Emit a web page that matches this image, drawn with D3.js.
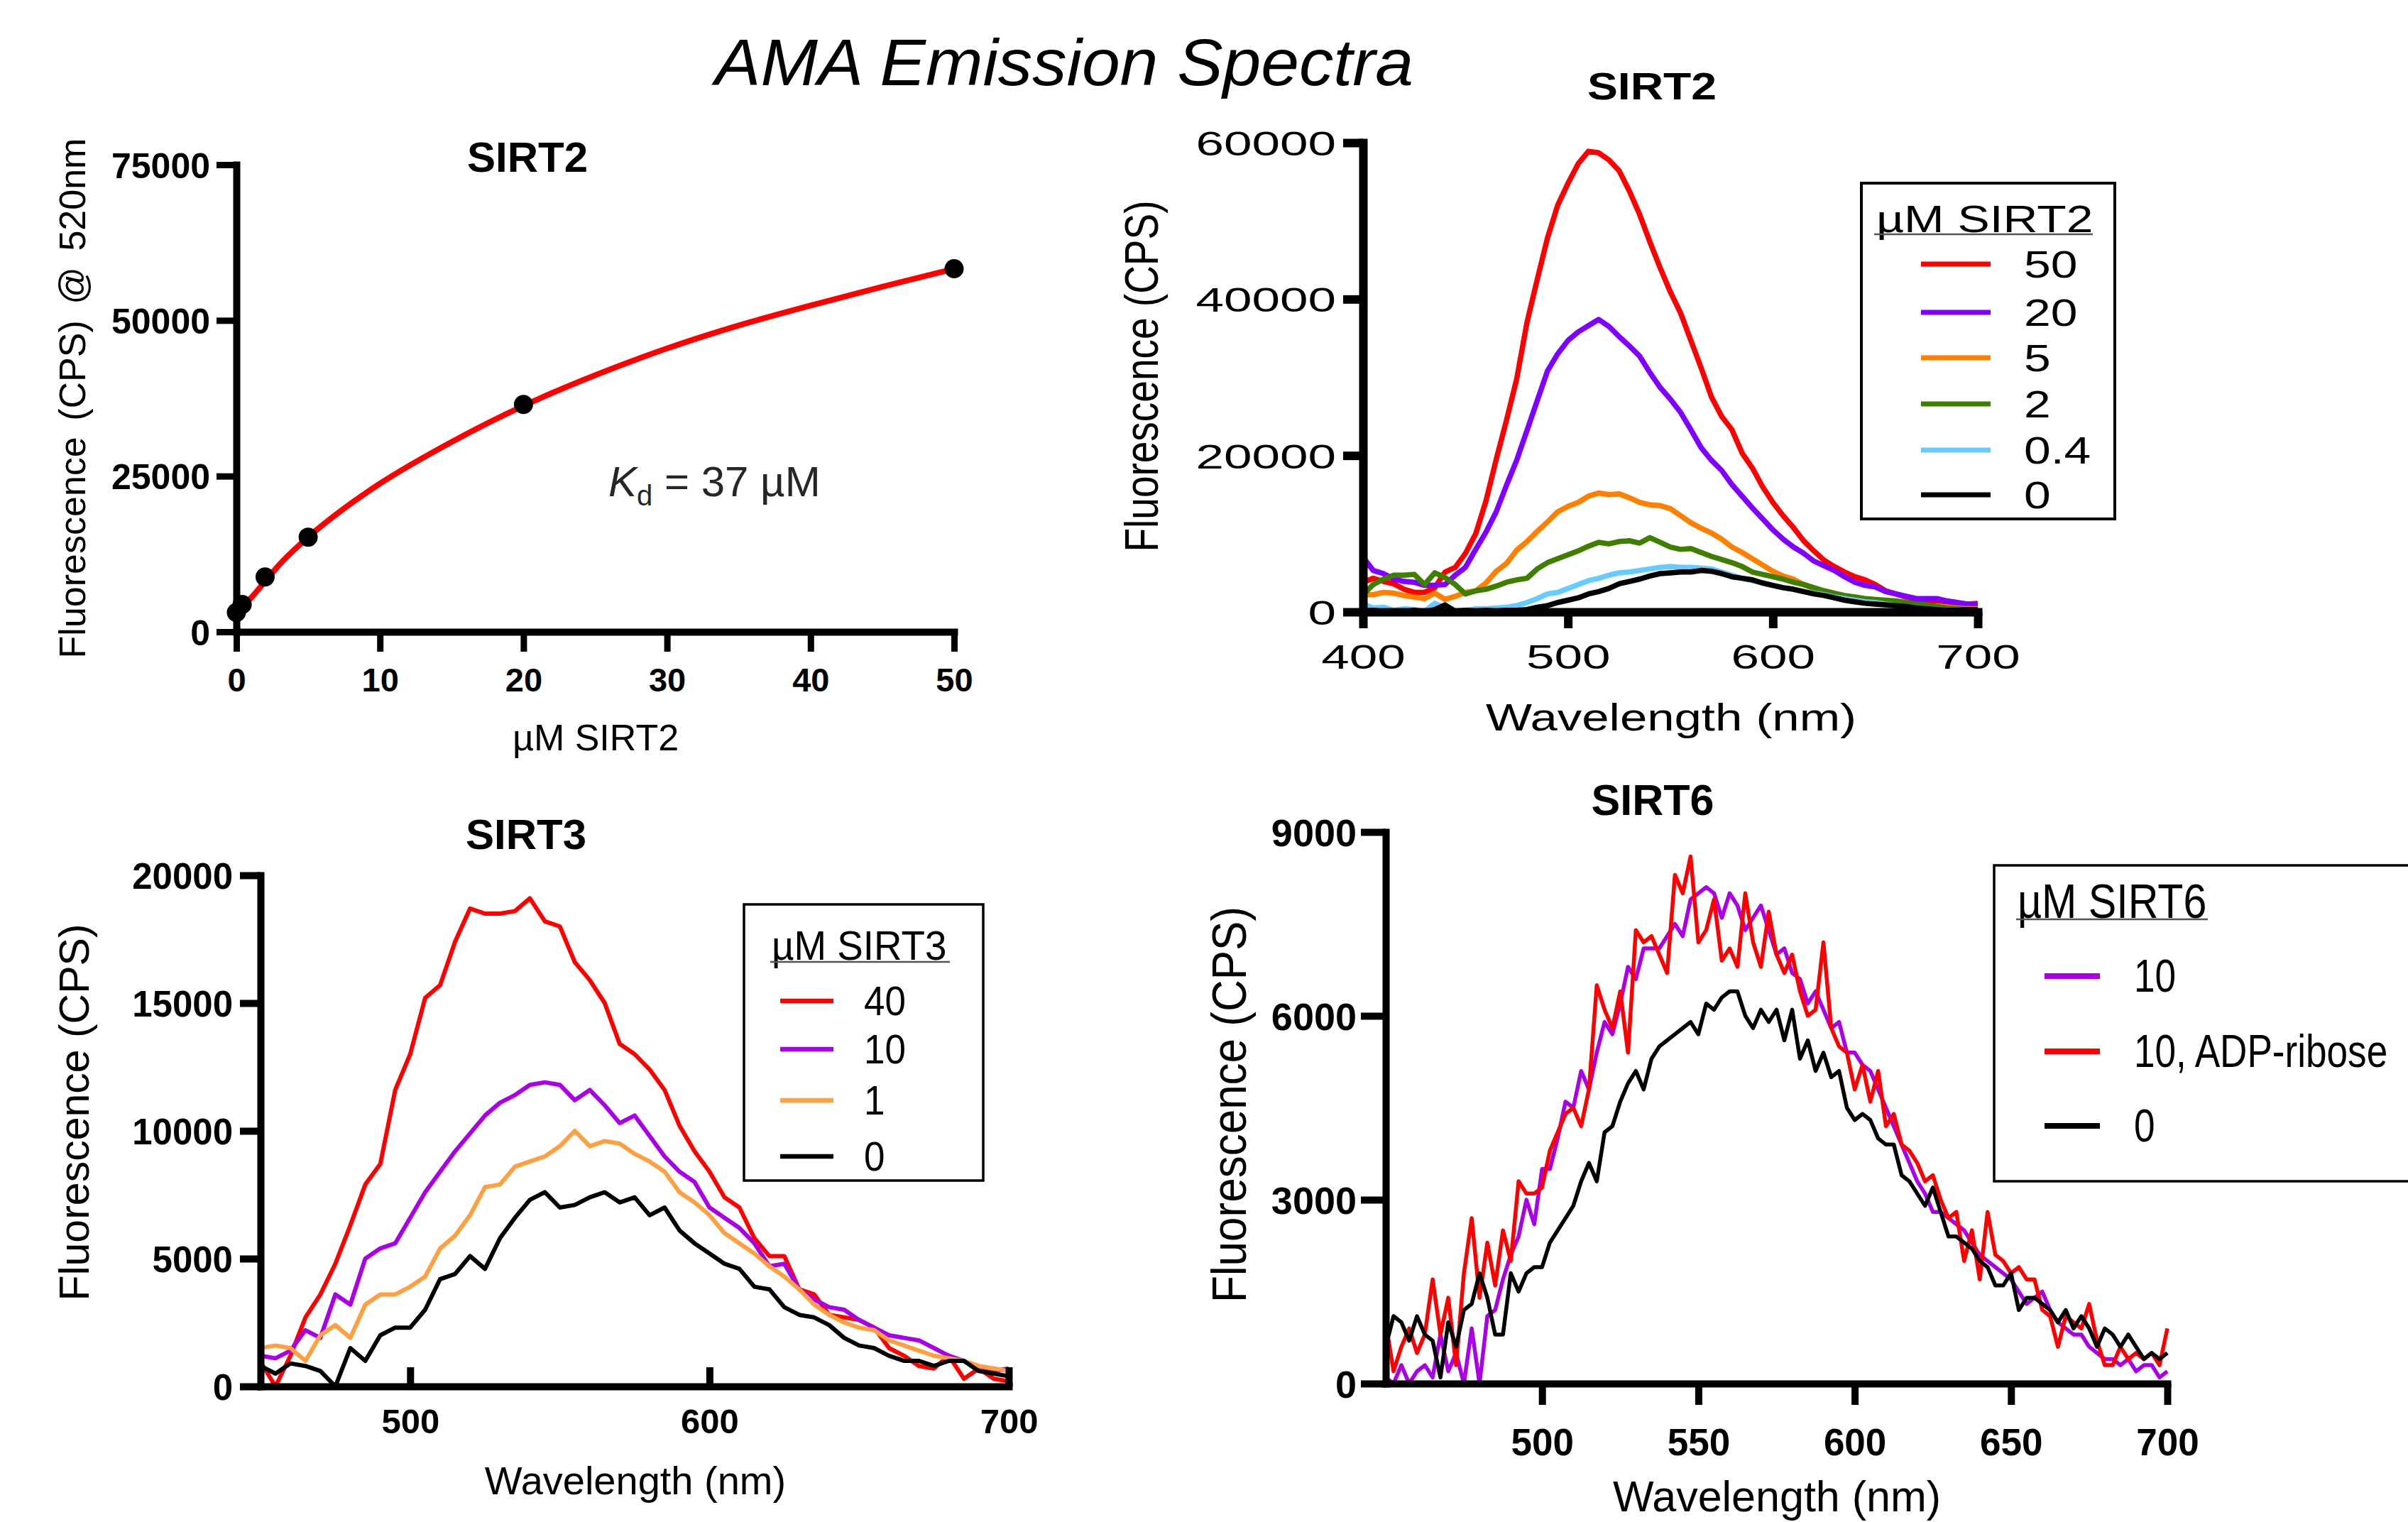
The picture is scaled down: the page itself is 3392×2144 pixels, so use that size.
<!DOCTYPE html>
<html>
<head>
<meta charset="utf-8">
<script src="https://cdn.jsdelivr.net/npm/d3@7"></script>
<style>
  html, body { margin: 0; padding: 0; background: #fff; }
  svg { display: block; }
</style>
</head>
<body>
<div id="chart-area"></div>
<script>
// ---- binding curve (SIRT2, F @ 520 nm) ----
var bindConc = [0, 0.4, 2, 5, 20, 50];
var bindFluor = [3100, 4400, 8800, 15200, 36500, 58300];
var fitConc = [0, 0.5, 1, 2, 3, 5, 7.5, 10, 15, 20, 25, 30, 35, 40, 45, 50];
var fitFluor = [3000, 4300, 5400, 8100, 10800, 15200, 19800, 23800, 30500, 36300, 41200, 45500, 49200, 52400, 55400, 58300];
var bindTicksX = [0, 10, 20, 30, 40, 50];
var bindTicksY = [0, 25000, 50000, 75000];

// ---- SIRT2 emission spectra ----
var wlSirt2 = [400,405,410,415,420,425,430,435,440,445,450,455,460,465,470,475,480,485,490,495,
  500,505,510,515,520,525,530,535,540,545,550,555,560,565,570,575,580,585,590,595,
  600,605,610,615,620,625,630,635,640,645,650,655,660,665,670,675,680,685,690,695,700];
var sirt2_50 = [3800,4300,3900,3600,2900,2500,2500,3100,5100,5700,
  7500,10000,14200,19500,24500,29800,37000,42500,47800,52000,
  54800,57300,58900,58700,57800,56400,53800,50800,47300,44000,
  40900,38200,34700,31200,27500,25000,23300,20300,18400,16000,
  14000,12300,10800,9100,7800,6600,5800,5100,4500,4100,
  3500,2700,2300,1900,1600,1400,1400,1300,1100,1000,1100];
var sirt2_20 = [7000,5300,4900,4200,3900,3800,3400,3400,3500,4700,
  5700,8000,10200,12800,16200,19400,23200,27000,30800,33000,
  34700,35800,36600,37400,36500,35200,34000,32700,30600,28700,
  27200,25500,23300,21000,19400,18100,16300,14800,13300,11900,
  10500,9300,8300,7500,6500,5900,5300,4500,3800,3400,
  3200,2600,2300,2000,1700,1700,1700,1400,1200,1000,1000];
var sirt2_5 = [2200,2200,2500,2400,2100,1900,1700,2400,1600,2000,
  2500,2700,3700,5200,6200,7900,9000,10300,11500,12800,
  13500,14000,14800,15200,15000,15100,14600,14000,13700,13600,
  13200,12300,11400,10700,10100,9300,8300,7600,6800,6000,
  5200,4600,4200,3500,3000,2500,2300,2000,1700,1400,
  1200,1100,1000,900,800,700,600,600,500,400,400];
var sirt2_2 = [2200,3500,4200,4700,4700,4800,3500,5000,4400,3500,
  2300,2700,2900,3300,3800,4100,4300,5500,6300,6800,
  7300,7800,8400,8900,8700,9000,9100,8800,9500,8900,
  8300,8000,8100,7600,7100,6700,6300,5800,5100,4800,
  4500,4200,3800,3500,3100,2700,2400,2100,1900,1700,
  1600,1500,1400,1200,1000,900,700,500,400,300,200];
var sirt2_04 = [1000,500,600,200,400,300,100,1100,500,0,
  200,400,400,500,600,800,1200,1700,2300,2500,
  3000,3500,4000,4300,4700,5000,5100,5300,5500,5700,
  5800,5700,5700,5600,5500,5100,4700,4300,4000,3700,
  3400,3100,2900,2600,2400,2200,1900,1700,1500,1300,
  1200,1000,800,700,500,400,300,200,100,100,0];
var sirt2_0 = [100,200,0,100,0,200,0,300,900,100,
  200,100,200,100,200,200,300,600,800,1200,
  1500,1800,2300,2600,3000,3600,3900,4200,4600,4900,
  5000,5100,5100,5300,5200,4900,4500,4300,4100,3700,
  3400,3100,2900,2600,2300,2100,1800,1500,1300,1100,
  1000,900,800,700,500,400,300,200,200,300,300];
var sirt2Labels = ["50", "20", "5", "2", "0.4", "0"];
var sirt2Colors = ["#ff0000", "#8000ff", "#ff8000", "#3f7f00", "#66ccff", "#000000"];

// ---- SIRT3 emission spectra ----
var wlSirt3 = [450,455,460,465,470,475,480,485,490,495,500,505,510,515,520,525,530,535,540,545,
  550,555,560,565,570,575,580,585,590,595,600,605,610,615,620,625,630,635,640,645,
  650,655,660,665,670,675,680,685,690,695,700];
var sirt3_40 = [960,0,1200,2700,3600,4800,6300,7900,8700,11600,
  13000,15200,15700,17400,18700,18500,18500,18600,19100,18200,
  18000,16600,15900,15000,13400,13000,12400,11600,10200,9200,
  8400,7400,7000,5800,5100,5100,3800,3600,2800,2700,
  2600,2300,1500,1200,800,700,1200,300,700,300,200];
var sirt3_10 = [1200,1100,1400,2200,1900,3600,3200,5000,5400,5600,
  6600,7600,8400,9200,9900,10600,11100,11400,11800,11900,
  11800,11200,11600,11000,10300,10600,9800,9000,8400,8000,
  7000,6600,6200,5600,4700,4800,3800,3400,3100,3000,
  2600,2300,2000,1900,1800,1500,1200,1000,700,600,700];
var sirt3_1 = [1500,1600,1500,1000,2000,2400,1900,3200,3600,3600,
  3900,4300,5400,5900,6700,7800,7900,8600,8800,9000,
  9400,10000,9400,9600,9500,9100,8800,8400,7600,7200,
  6700,6000,5600,5200,4700,4300,3800,3200,2800,2500,
  2300,2200,1800,1600,1400,1200,1100,1000,800,700,600];
var sirt3_0 = [800,500,900,800,600,0,1500,1000,2000,2300,
  2300,3000,4200,4400,5100,4600,5800,6600,7300,7600,
  7000,7100,7400,7600,7200,7400,6700,7000,6100,5600,
  5200,4800,4600,3900,3800,3100,2800,2700,2400,1900,
  1600,1500,1200,1000,1000,800,1000,1000,600,500,400];
var sirt3Labels = ["40", "10", "1", "0"];
var sirt3Colors = ["#ff0000", "#aa00e6", "#ffa040", "#000000"];

// ---- SIRT6 emission spectra ----
var wlSirt6 = [450,452.5,455,457.5,460,462.5,465,467.5,470,472.5,
  475,477.5,480,482.5,485,487.5,490,492.5,495,497.5,
  500,502.5,505,507.5,510,512.5,515,517.5,520,522.5,
  525,527.5,530,532.5,535,537.5,540,542.5,545,547.5,
  550,552.5,555,557.5,560,562.5,565,567.5,570,572.5,
  575,577.5,580,582.5,585,587.5,590,592.5,595,597.5,
  600,602.5,605,607.5,610,612.5,615,617.5,620,622.5,
  625,627.5,630,632.5,635,637.5,640,642.5,645,647.5,
  650,652.5,655,657.5,660,662.5,665,667.5,670,672.5,
  675,677.5,680,682.5,685,687.5,690,692.5,695,697.5,700];
var sirt6_10 = [100,0,300,0,200,300,100,800,200,500,
  0,900,0,1100,1200,1700,2100,2400,3000,2600,
  3500,3500,4000,4600,4500,5100,4800,5400,5900,5700,
  6200,6800,6600,7100,7100,7100,7300,7500,7300,7900,
  8000,8100,8000,7600,8000,7800,7400,7600,7800,7400,
  7000,7100,6700,6600,6200,6400,6100,5800,5900,5400,
  5400,5200,5100,4800,4500,4200,3900,3600,3300,3100,
  2800,2800,2700,2600,2500,2300,2100,2000,1900,1800,
  1700,1500,1300,1400,1500,1200,1000,900,800,800,
  600,500,400,400,300,400,200,300,300,100,200];
var sirt6_10adp = [1000,200,600,900,500,800,1700,800,1400,300,
  1800,2700,1400,2300,1600,2500,2000,3300,3100,3100,
  3200,3800,4100,4400,4500,4200,4800,6500,6100,5800,
  6400,5400,7400,7200,7300,7000,6700,8300,8000,8600,
  7200,7400,7900,6900,7100,6800,8000,7200,6800,7700,
  7000,6700,7000,6400,6000,6100,7200,5800,5500,5400,
  4800,5200,4600,5100,4200,4400,3900,3800,3600,3300,
  3400,3000,2700,2800,2000,2500,1700,2800,2100,2000,
  1800,1900,1700,1700,1200,1100,600,1100,1000,900,
  1300,700,300,300,600,400,500,400,500,300,900];
var sirt6_0 = [600,1100,1000,700,1100,800,700,100,1000,600,
  1200,1300,1800,1400,800,800,1800,1500,1800,1900,
  1900,2300,2500,2700,2900,3300,3600,3300,4100,4200,
  4600,4900,5100,4800,5300,5500,5600,5700,5800,5900,
  5700,6200,6100,6300,6400,6400,6000,5800,6100,5900,
  6100,5600,6100,5300,5600,5100,5400,5000,5100,4500,
  4300,4400,4300,4000,3900,3900,3400,3300,3100,2900,
  3200,2800,2400,2400,2300,2200,2000,1900,1600,1600,
  1800,1200,1400,1400,1300,1200,1000,1200,900,1100,
  900,600,900,800,600,800,600,400,500,400,500];
var sirt6Labels = ["10", "10, ADP-ribose", "0"];
var sirt6Colors = ["#aa00e6", "#ff0000", "#000000"];

var FONT = "'Liberation Sans', Arial, Helvetica, sans-serif";
var plain = d3.format("d");

var svg = d3.select("#chart-area").append("svg")
  .attr("width", 3392)
  .attr("height", 2144)
  .style("background-color", "white");

// text helper: sx stretches the text horizontally on screen (the original panels were resized unevenly)
function label(g, x, y, txt, o) {
  var tf = "translate(" + x + "," + y + ") scale(" + (o.sx || 1) + ",1)" + (o.rot ? " rotate(" + o.rot + ")" : "");
  return g.append("text")
    .attr("transform", tf)
    .attr("text-anchor", o.anchor || "middle")
    .style("font-family", FONT)
    .style("font-size", o.size + "px")
    .style("font-weight", o.weight || "normal")
    .style("font-style", o.italic ? "italic" : "normal")
    .style("word-spacing", o.ws ? o.ws + "px" : null)
    .attr("fill", o.color || "#000")
    .text(txt);
}

function styleLeft(ax, o) {
  ax.attr("font-size", null).attr("font-family", null);
  ax.select(".domain").attr("stroke-width", o.sw).attr("stroke-linecap", "square");
  ax.selectAll(".tick line").attr("stroke-width", o.tw);
  ax.selectAll(".tick text")
    .attr("x", -o.gap / o.sx)
    .attr("dy", "0.36em")
    .attr("transform", "scale(" + o.sx + ",1)")
    .attr("fill", "#000")
    .style("font-family", FONT)
    .style("font-size", o.fs + "px")
    .style("font-weight", o.fw);
}

function styleBottom(ax, o) {
  ax.attr("font-size", null).attr("font-family", null);
  ax.select(".domain").attr("stroke-width", o.sw).attr("stroke-linecap", "square");
  ax.selectAll(".tick line").attr("stroke-width", o.tw);
  ax.selectAll(".tick text")
    .attr("y", o.base)
    .attr("dy", null)
    .attr("transform", "scale(" + o.sx + ",1)")
    .attr("fill", "#000")
    .style("font-family", FONT)
    .style("font-size", o.fs + "px")
    .style("font-weight", o.fw);
}

// ================= panel 1: binding curve =================
(function () {
  var x = d3.scaleLinear().domain([0, 50]).range([333, 1344]);
  var y = d3.scaleLinear().domain([0, 75000]).range([890, 232]);
  var g = svg.append("g");

  var fit = d3.zip(fitConc, fitFluor);
  g.append("path")
    .datum(fit)
    .attr("fill", "none")
    .attr("stroke", "#ff0000")
    .attr("stroke-width", 8)
    .attr("stroke-linecap", "round")
    .attr("d", d3.line().x(function (d) { return x(d[0]); }).y(function (d) { return y(d[1]); }).curve(d3.curveMonotoneX));

  var xa = g.append("g").attr("transform", "translate(0," + y(0) + ")")
    .call(d3.axisBottom(x).tickValues(bindTicksX).tickFormat(plain).tickSize(28).tickSizeOuter(0));
  styleBottom(xa, { sw: 10, tw: 9, base: 84, sx: 1, fs: 47, fw: "bold" });
  var ya = g.append("g").attr("transform", "translate(" + x(0) + ",0)")
    .call(d3.axisLeft(y).tickValues(bindTicksY).tickFormat(plain).tickSize(28).tickSizeOuter(0));
  styleLeft(ya, { sw: 10, tw: 9, gap: 37, sx: 1, fs: 50, fw: "bold" });

  g.selectAll("circle.pt")
    .data(d3.zip(bindConc, bindFluor))
    .enter().append("circle")
    .attr("class", "pt")
    .attr("cx", function (d) { return x(d[0]); })
    .attr("cy", function (d) { return y(d[1]); })
    .attr("r", 13.5)
    .attr("fill", "#000");

  label(g, 743, 242, "SIRT2", { size: 60, weight: "bold" });
  label(g, 839, 1057, "µM SIRT2", { size: 52 });
  label(g, 120, 561, "Fluorescence (CPS) @ 520nm", { size: 52, rot: -90, ws: 8 });

  var kd = g.append("text")
    .attr("x", 857).attr("y", 699)
    .style("font-family", FONT).style("font-size", "60px")
    .attr("fill", "#262626");
  kd.append("tspan").style("font-style", "italic").text("K");
  kd.append("tspan").attr("dy", 13).style("font-size", "40px").text("d");
  kd.append("tspan").attr("dy", -13).text(" = 37 µM");
})();

// ================= spectra panels =================
function spectraPanel(p) {
  var x = d3.scaleLinear().domain(p.xDomain).range(p.xRange);
  var y = d3.scaleLinear().domain(p.yDomain).range(p.yRange);
  var g = svg.append("g");

  var line = d3.line()
    .x(function (d) { return x(d[0]); })
    .y(function (d) { return y(d[1]); });

  g.selectAll("path.spec")
    .data(p.series)
    .enter().append("path")
    .attr("class", "spec")
    .attr("fill", "none")
    .attr("stroke", function (d, i) { return p.colors[i]; })
    .attr("stroke-width", p.lw)
    .attr("stroke-linejoin", "round")
    .attr("d", function (d) { return line(d3.zip(p.wl, d)); });

  var xa = g.append("g").attr("transform", "translate(0," + y(0) + ")")
    .call(d3.axisBottom(x).tickValues(p.xTicks).tickFormat(plain).tickSize(p.xTick).tickSizeOuter(0));
  styleBottom(xa, p.xStyle);
  var ya = g.append("g").attr("transform", "translate(" + x(p.xDomain[0]) + ",0)")
    .call(d3.axisLeft(y).tickValues(p.yTicks).tickFormat(plain).tickSize(p.yTick).tickSizeOuter(0));
  styleLeft(ya, p.yStyle);

  // titles
  label(g, p.title.x, p.title.y, p.title.text, p.title);
  label(g, p.xLab.x, p.xLab.y, "Wavelength (nm)", p.xLab);
  label(g, p.yLab.x, p.yLab.y, "Fluorescence (CPS)", p.yLab);

  // legend
  var L = p.legend;
  g.append("rect")
    .attr("x", L.box[0]).attr("y", L.box[1])
    .attr("width", L.box[2]).attr("height", L.box[3])
    .attr("fill", "none").attr("stroke", "#000").attr("stroke-width", L.bw);
  label(g, L.tx, L.ty, L.title, { size: L.tfs, sx: L.tsx, anchor: "start" });
  g.append("line")
    .attr("x1", L.ul[0]).attr("x2", L.ul[1])
    .attr("y1", L.ul[2]).attr("y2", L.ul[2])
    .attr("stroke", "#555").attr("stroke-width", 2.5);
  var items = g.selectAll("g.leg")
    .data(p.labels)
    .enter().append("g")
    .attr("class", "leg");
  items.append("line")
    .attr("x1", L.lx[0]).attr("x2", L.lx[1])
    .attr("y1", function (d, i) { return L.ys[i]; })
    .attr("y2", function (d, i) { return L.ys[i]; })
    .attr("stroke", function (d, i) { return p.colors[i]; })
    .attr("stroke-width", L.lw);
  items.append("text")
    .attr("transform", function (d, i) { return "translate(" + L.nx + "," + (L.ys[i] + L.off) + ") scale(" + L.nsx + ",1)"; })
    .style("font-family", FONT)
    .style("font-size", L.nfs + "px")
    .attr("fill", "#000")
    .text(function (d) { return d; });
}

// SIRT2 spectra (top right)
spectraPanel({
  wl: wlSirt2,
  series: [sirt2_50, sirt2_20, sirt2_5, sirt2_2, sirt2_04, sirt2_0],
  labels: sirt2Labels, colors: sirt2Colors,
  xDomain: [400, 700], xRange: [1920, 2786],
  yDomain: [0, 60000], yRange: [862, 201],
  xTicks: [400, 500, 600, 700], yTicks: [0, 20000, 40000, 60000],
  xTick: 23, yTick: 28, lw: 7.5,
  xStyle: { sw: 12, tw: 12, base: 80, sx: 1.45, fs: 49, fw: "normal" },
  yStyle: { sw: 12, tw: 12, gap: 38, sx: 1.45, fs: 49, fw: "normal" },
  title: { x: 2327, y: 140, text: "SIRT2", size: 54, weight: "bold", sx: 1.19 },
  xLab: { x: 2354, y: 1029, size: 53, sx: 1.3 },
  yLab: { x: 1631, y: 530, size: 55, sx: 1.22, rot: -90 },
  legend: {
    box: [2622, 258, 357, 473], bw: 4,
    title: "µM SIRT2", tx: 2643, ty: 327, tfs: 53, tsx: 1.28, ul: [2640, 2948, 330],
    lx: [2706, 2804], ys: [372, 440, 504, 569, 634, 697], lw: 7,
    nx: 2851, off: 19, nfs: 53, nsx: 1.28
  }
});

// SIRT3 spectra (bottom left)
spectraPanel({
  wl: wlSirt3,
  series: [sirt3_40, sirt3_10, sirt3_1, sirt3_0],
  labels: sirt3Labels, colors: sirt3Colors,
  xDomain: [450, 700], xRange: [367, 1421],
  yDomain: [0, 20000], yRange: [1953, 1233],
  xTicks: [500, 600, 700], yTicks: [0, 5000, 10000, 15000, 20000],
  xTick: -27, yTick: 29, lw: 6,
  xStyle: { sw: 10, tw: 10, base: 66, sx: 1, fs: 49, fw: "bold" },
  yStyle: { sw: 10, tw: 10, gap: 39, sx: 1, fs: 51, fw: "bold" },
  title: { x: 741, y: 1196, text: "SIRT3", size: 60, weight: "bold" },
  xLab: { x: 895, y: 2105, size: 56 },
  yLab: { x: 125, y: 1567, size: 59, rot: -90 },
  legend: {
    box: [1048, 1274, 337, 389], bw: 3.5,
    title: "µM SIRT3", tx: 1087, ty: 1352, tfs: 57, tsx: 0.96, ul: [1085, 1338, 1355],
    lx: [1099, 1174], ys: [1410, 1478, 1550, 1629], lw: 6.5,
    nx: 1217, off: 20, nfs: 57, nsx: 0.93
  }
});

// SIRT6 spectra (bottom right)
spectraPanel({
  wl: wlSirt6,
  series: [sirt6_10, sirt6_10adp, sirt6_0],
  labels: sirt6Labels, colors: sirt6Colors,
  xDomain: [450, 700], xRange: [1952, 3053],
  yDomain: [0, 9000], yRange: [1949, 1172],
  xTicks: [500, 550, 600, 650, 700], yTicks: [0, 3000, 6000, 9000],
  xTick: 30, yTick: 35, lw: 5.5,
  xStyle: { sw: 10, tw: 10, base: 101, sx: 1, fs: 53, fw: "bold" },
  yStyle: { sw: 10, tw: 10, gap: 41, sx: 1, fs: 54, fw: "bold" },
  title: { x: 2328, y: 1148, text: "SIRT6", size: 61, weight: "bold" },
  xLab: { x: 2503, y: 2129, size: 61 },
  yLab: { x: 1755, y: 1556, size: 62, sx: 1.1, rot: -90 },
  legend: {
    box: [2809, 1219, 700, 445], bw: 3.5,
    title: "µM SIRT6", tx: 2842, ty: 1293, tfs: 68, tsx: 0.87, ul: [2840, 3110, 1295],
    lx: [2880, 2958], ys: [1375, 1481, 1586], lw: 8,
    nx: 3006, off: 22, nfs: 64, nsx: 0.83
  }
});

// main title
label(svg, 1499, 120, "AMA Emission Spectra", { size: 92, italic: true, sx: 1.05 });
</script>
</body>
</html>
